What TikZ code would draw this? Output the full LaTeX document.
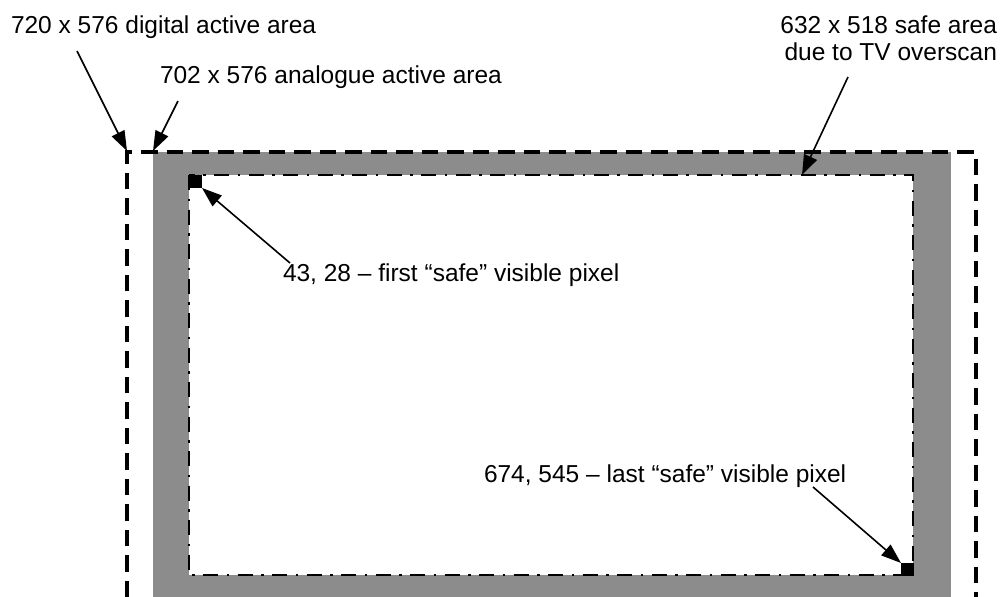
\documentclass[tikz,border=0pt]{standalone}
\usepackage{fontspec}
\setmainfont{Liberation Sans}
\usetikzlibrary{arrows.meta}
\definecolor{bandgray}{HTML}{8C8C8C}
\begin{document}
\begin{tikzpicture}[x=1pt,y=-1pt,
  lbl/.style={font=\fontsize{24.5}{27}\selectfont, inner sep=0pt, outer sep=0pt},
  callout/.style={line width=1.6pt, -{Triangle[length=20pt,width=14pt]}},
  digitalline/.style={line width=3.2pt, dash pattern=on 16.5pt off 9pt},
  safeline/.style={line width=2.8pt, dash pattern=on 15pt off 8.5pt on 2.5pt off 8.5pt},
  pix/.style={fill=black, draw=none, minimum size=13pt, inner sep=0pt, outer sep=0pt},
]
\useasboundingbox (0,0) rectangle (1002,597);
% analogue active area band
\fill[bandgray] (153,152) rectangle (951,597);
\fill[white] (189,175) rectangle (913,575);
% digital active area (dashed)
\draw[digitalline] (127,597) -- (127,152) -- (976,152) -- (976,597);
% safe area (dash-dot)
\draw[safeline] (189,175) rectangle (913,575);
% corner coordinates
\coordinate (digcorner) at (127,151);
\coordinate (anacorner) at (153,151);
\coordinate (safetop) at (802,175);
% pixels
\node[pix] (first) at (195.5,181.5) {};
\node[pix] (last) at (907.5,569.5) {};
% labels
\node[lbl, anchor=base west] (digtxt) at (11,33) {720 x 576 digital active area};
\node[lbl, anchor=base west] (anatxt) at (160,83) {702 x 576 analogue active area};
\node[lbl, anchor=north east, align=right] (safetxt) at (997,15.5) {632 x 518 safe area\\due to TV overscan};
\node[lbl, anchor=base west] (firsttxt) at (283,281) {43, 28 -- first “safe” visible pixel};
\node[lbl, anchor=base west] (lasttxt) at (484,482) {674, 545 -- last “safe” visible pixel};
% arrow tails
\coordinate (digtail) at (77,51);
\coordinate (anatail) at (178,101);
\coordinate (safetail) at (848,77);
\coordinate (firsttail) at (290,263);
\coordinate (lasttail) at (813,487);
% callouts
\draw[callout] (digtail) -- (digcorner);
\draw[callout] (anatail) -- (anacorner);
\draw[callout] (safetail) -- (safetop);
\draw[callout] (firsttail) -- (first.south east);
\draw[callout] (lasttail) -- (last.north west);
\end{tikzpicture}
\end{document}
